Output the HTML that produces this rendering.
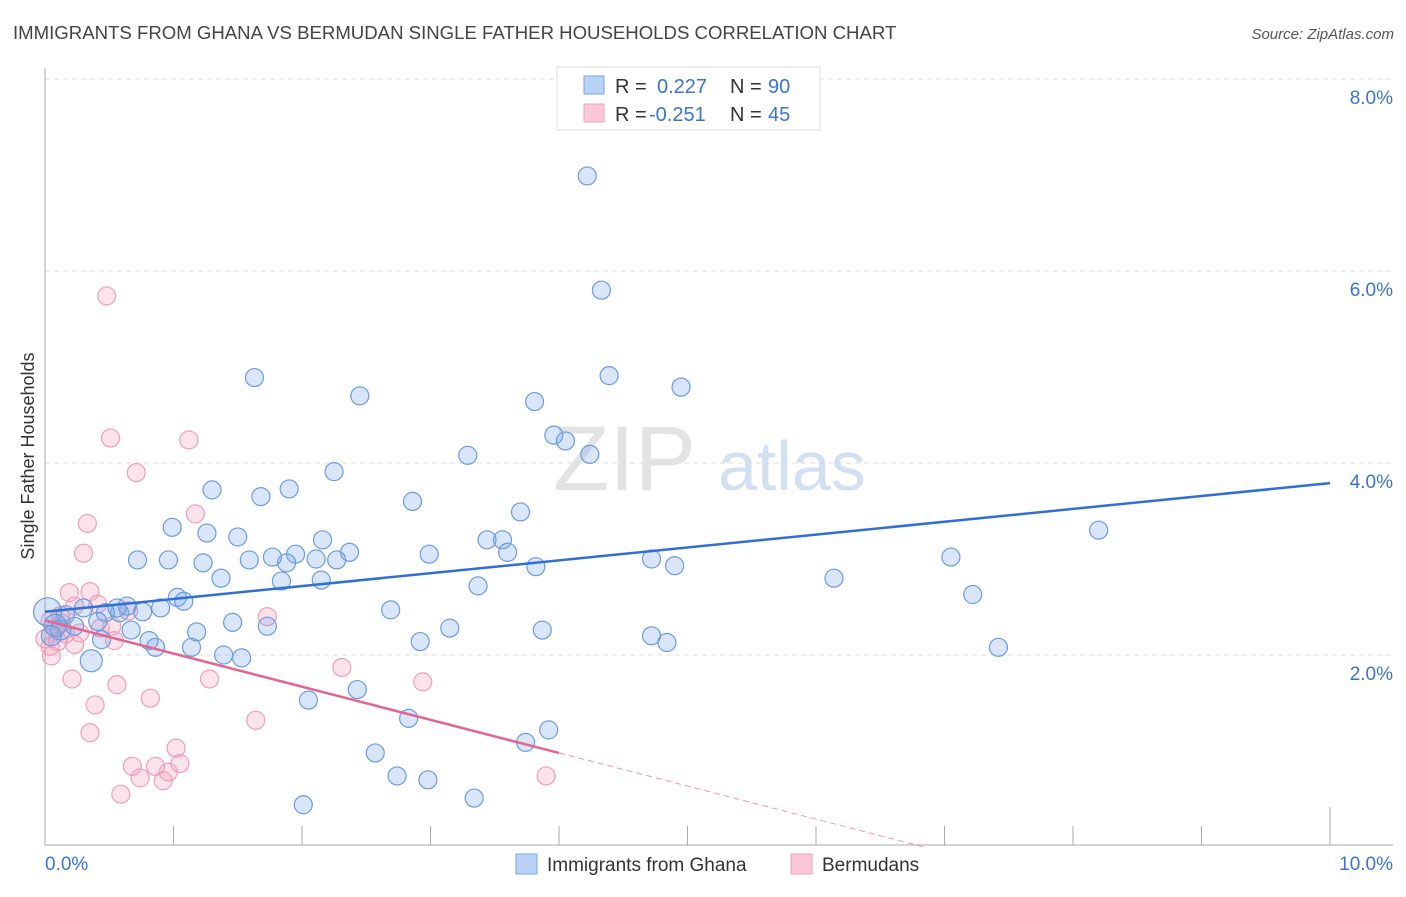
<!DOCTYPE html>
<html><head><meta charset="utf-8"><style>
body{margin:0;background:#fff;font-family:"Liberation Sans",sans-serif}
svg text{font-family:"Liberation Sans",sans-serif}
</style></head><body>
<svg id="chart" width="1406" height="892" xmlns="http://www.w3.org/2000/svg">
<text x="13" y="39" font-size="18.6" fill="#444">IMMIGRANTS FROM GHANA VS BERMUDAN SINGLE FATHER HOUSEHOLDS CORRELATION CHART</text>
<text x="1394" y="39" font-size="15" fill="#555" text-anchor="end" font-style="italic">Source: ZipAtlas.com</text>
<g id="grid"></g>
<g id="axes"></g>
<text x="553" y="490" font-size="92" fill="#ddd" font-family="Liberation Serif" opacity="0.8">ZIP</text>
<text x="718" y="490" font-size="70" fill="#c9d9f0" opacity="0.8">atlas</text>
<g id="pts"></g>
<g id="lines"></g>
<text transform="translate(34,456) rotate(-90)" font-size="18" fill="#333" text-anchor="middle">Single Father Households</text>
<g>
<rect x="557" y="67" width="263" height="63" fill="#fff" stroke="#ddd"/>
<rect x="584" y="76" width="20" height="18" fill="#b8d3f5" stroke="#7aa6e6"/>
<rect x="584" y="104" width="20" height="18" fill="#fcc8d8" stroke="#eea0b8"/>
<text x="615" y="93" font-size="20" fill="#333">R = </text><text x="657" y="93" font-size="20" fill="#3a74d0">0.227</text>
<text x="730" y="93" font-size="20" fill="#333">N = </text><text x="768" y="93" font-size="20" fill="#3a74d0">90</text>
<text x="615" y="121" font-size="20" fill="#333">R = </text><text x="649" y="121" font-size="20" fill="#3a74d0">-0.251</text>
<text x="730" y="121" font-size="20" fill="#333">N = </text><text x="768" y="121" font-size="20" fill="#3a74d0">45</text>
</g>
<g>
<rect x="516" y="854" width="21" height="20" fill="#b8d3f5" stroke="#7aa6e6"/>
<text x="547" y="871" font-size="19" fill="#333">Immigrants from Ghana</text>
<rect x="791" y="854" width="21" height="20" fill="#fcc8d8" stroke="#eea0b8"/>
<text x="822" y="871" font-size="19" fill="#333">Bermudans</text>
</g>
</svg>
<script>
const yTicks=[2,4,6,8];
const yTickLabels=["2.0%","4.0%","6.0%","8.0%"];
const xTicks=[0,1,2,3,4,5,6,7,8,9,10];
const blueX=[4.22,4.33,1.63,4.39,4.95,2.45,3.81,3.96,4.05,3.29,4.24,2.25,2.86,1.3,1.9,1.68,3.7,0.99,1.26,8.2,1.5,3.44,3.56,2.16,2.37,1.95,2.99,0.72,0.96,1.77,1.59,2.11,3.6,1.23,4.72,7.05,1.88,2.27,3.82,4.9,1.37,2.15,1.84,6.14,3.37,1.03,1.08,7.22,0.64,0.56,0.76,0.9,2.69,0.58,0.47,0.3,0.16,1.46,0.41,1.73,0.23,0.67,3.87,1.18,3.15,0.81,0.44,4.72,2.92,0.86,4.84,1.14,7.42,1.39,1.53,0.36,2.43,2.05,2.83,3.92,3.74,2.57,2.74,2.98,3.34,2.01,0.02,0.08,0.12,0.05];
const blueY=[6.99,5.8,4.89,4.91,4.79,4.7,4.64,4.29,4.23,4.08,4.09,3.91,3.6,3.72,3.73,3.65,3.49,3.33,3.27,3.3,3.23,3.2,3.2,3.2,3.07,3.05,3.05,2.99,2.99,3.02,2.99,3.0,3.07,2.96,3.0,3.02,2.96,2.99,2.92,2.93,2.8,2.78,2.77,2.8,2.72,2.6,2.56,2.63,2.51,2.49,2.45,2.49,2.47,2.44,2.44,2.49,2.42,2.34,2.35,2.3,2.3,2.26,2.26,2.24,2.28,2.15,2.16,2.2,2.14,2.08,2.13,2.08,2.08,2.0,1.97,1.94,1.64,1.53,1.34,1.22,1.09,0.98,0.74,0.7,0.51,0.44,2.45,2.31,2.26,2.2];
const blueR=[9,9,9,9,9,9,9,9,9,9,9,9,9,9,9,9,9,9,9,9,9,9,9,9,9,9,9,9,9,9,9,9,9,9,9,9,9,9,9,9,9,9,9,9,9,9,9,9,9,9,9,9,9,9,9,9,9,9,9,9,9,9,9,9,9,9,9,9,9,9,9,9,9,9,9,11,9,9,9,9,9,9,9,9,9,9,14,11,10,10];
const pinkX=[0.48,0.51,1.12,0.71,1.17,0.33,0.3,0.19,0.35,0.41,0.65,0.23,0.12,0.04,0.08,0.16,0.27,0.52,0.43,0.23,0.1,0.04,0.54,1.73,0.05,0.21,2.31,2.94,1.28,0.56,0.82,0.39,1.64,0.35,1.02,0.68,0.86,1.05,0.96,0.74,0.92,0.59,3.9,0.0,0.13];
const pinkY=[5.74,4.26,4.24,3.9,3.47,3.37,3.06,2.65,2.66,2.53,2.46,2.51,2.41,2.36,2.27,2.22,2.23,2.3,2.28,2.11,2.14,2.09,2.15,2.4,1.99,1.75,1.87,1.72,1.75,1.69,1.55,1.48,1.32,1.19,1.03,0.84,0.84,0.87,0.78,0.72,0.69,0.55,0.74,2.17,2.33];
const blueTrend=[2.45,3.79];
const pinkTrend=[2.36,0.98];
const NS="http://www.w3.org/2000/svg";
const X=v=>45+v*128.5, Y=v=>847-v*96;
function mk(t,a,p){const e=document.createElementNS(NS,t);for(const k in a)e.setAttribute(k,a[k]);p.appendChild(e);return e;}
const grid=document.getElementById('grid'),axes=document.getElementById('axes');
yTicks.forEach((t,i)=>{
 const l=mk('line',{x1:45,x2:1393,y1:Y(t),y2:Y(t),stroke:'#ddd','stroke-dasharray':'5,4'},grid);
 
 
 const tx=mk('text',{x:1393,y:Y(t)+25,'font-size':19,fill:'#3a74d0','text-anchor':'end'},axes);
 tx.textContent=yTickLabels[i];
 
 
});
mk('line',{x1:45,x2:1393,y1:845,y2:845,stroke:'#aaa'},axes);
mk('line',{x1:45,x2:45,y1:68,y2:845,stroke:'#aaa'},axes);
xTicks.forEach(t=>{
 const l=mk('line',{x1:X(t),x2:X(t),y1:t==10?807:826,y2:845,stroke:'#aaa'},axes);
 
 
});
let t0=mk('text',{x:45,y:870,'font-size':19,fill:'#3a74d0'},axes);t0.textContent='0.0%';

let t1=mk('text',{x:1393,y:870,'font-size':19,fill:'#3a74d0','text-anchor':'end'},axes);t1.textContent='10.0%';

const pts=document.getElementById('pts');
pinkX.forEach((x,i)=>{
 const c=mk('circle',{cx:X(x),cy:Y(pinkY[i]),r:9,fill:'rgba(246,160,190,0.3)',stroke:'#eea0b8','stroke-width':1.2},pts);
 
 
});
blueX.forEach((x,i)=>{
 const c=mk('circle',{cx:X(x),cy:Y(blueY[i]),r:blueR[i],fill:'rgba(120,165,235,0.28)',stroke:'#6b9be0','stroke-width':1.2},pts);
 
 
});
const lines=document.getElementById('lines');
let bl=mk('line',{x1:X(0),y1:Y(blueTrend[0]),x2:X(10),y2:Y(blueTrend[1]),stroke:'#2f6fd6','stroke-width':2.5},lines);


const ps=(pinkTrend[1]-pinkTrend[0])/4;
let pl=mk('line',{x1:X(0),y1:Y(pinkTrend[0]),x2:X(4),y2:Y(pinkTrend[1]),stroke:'#e2668f','stroke-width':2.5},lines);


const xe=-pinkTrend[0]/ps;
let pd=mk('line',{x1:X(4),y1:Y(pinkTrend[1]),x2:X(xe),y2:Y(0),stroke:'#e899b3','stroke-width':1,'stroke-dasharray':'6,4'},lines);


</script>
</body></html>
